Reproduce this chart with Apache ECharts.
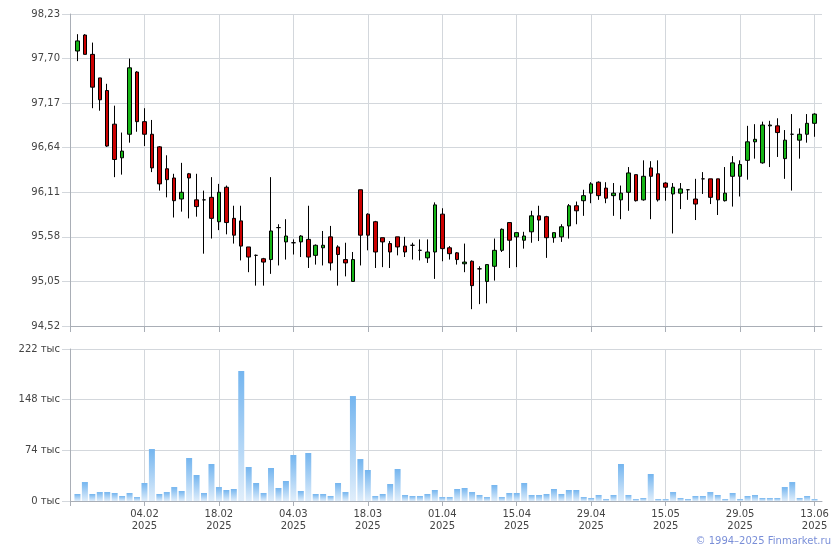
<!DOCTYPE html>
<html><head><meta charset="utf-8">
<script src="https://cdn.jsdelivr.net/npm/echarts@6/dist/echarts.min.js"></script>
<style>html,body{margin:0;padding:0;background:#fff}#c{width:840px;height:550px}</style>
</head><body><div id="c"></div>
<script>
const dates = [
'22.01.2025','23.01.2025','24.01.2025','27.01.2025','28.01.2025','29.01.2025','30.01.2025','31.01.2025','03.02.2025','04.02.2025',
'05.02.2025','06.02.2025','07.02.2025','10.02.2025','11.02.2025','12.02.2025','13.02.2025','14.02.2025','17.02.2025','18.02.2025',
'19.02.2025','20.02.2025','21.02.2025','24.02.2025','25.02.2025','26.02.2025','27.02.2025','28.02.2025','03.03.2025','04.03.2025',
'05.03.2025','06.03.2025','07.03.2025','10.03.2025','11.03.2025','12.03.2025','13.03.2025','14.03.2025','17.03.2025','18.03.2025',
'19.03.2025','20.03.2025','21.03.2025','24.03.2025','25.03.2025','26.03.2025','27.03.2025','28.03.2025','31.03.2025','01.04.2025',
'02.04.2025','03.04.2025','04.04.2025','07.04.2025','08.04.2025','09.04.2025','10.04.2025','11.04.2025','14.04.2025','15.04.2025',
'16.04.2025','17.04.2025','18.04.2025','21.04.2025','22.04.2025','23.04.2025','24.04.2025','25.04.2025','28.04.2025','29.04.2025',
'30.04.2025','02.05.2025','05.05.2025','06.05.2025','07.05.2025','08.05.2025','12.05.2025','13.05.2025','14.05.2025','15.05.2025',
'16.05.2025','19.05.2025','20.05.2025','21.05.2025','22.05.2025','23.05.2025','26.05.2025','27.05.2025','28.05.2025','29.05.2025',
'30.05.2025','02.06.2025','03.06.2025','04.06.2025','05.06.2025','06.06.2025','09.06.2025','10.06.2025','11.06.2025','13.06.2025'
];
const opens = [
97.79,97.98,97.75,97.47,97.32,96.92,96.52,96.80,97.54,96.95,
96.80,96.65,96.39,96.28,96.03,96.33,96.02,96.02,96.05,95.76,
96.17,95.80,95.77,95.46,95.36,95.32,95.31,95.69,95.52,95.51,
95.52,95.55,95.36,95.45,95.58,95.46,95.31,95.05,96.14,95.85,
95.76,95.57,95.50,95.58,95.47,95.48,95.42,95.33,95.40,95.85,
95.45,95.39,95.26,95.29,95.20,95.05,95.23,95.42,95.75,95.58,
95.54,95.64,95.83,95.82,95.57,95.58,95.71,95.95,96.01,96.10,
96.23,96.16,96.07,96.02,96.11,96.32,96.02,96.40,96.33,96.22,
96.09,96.10,96.14,96.03,96.27,96.27,96.27,96.01,96.30,96.30,
96.49,96.71,96.46,96.90,96.90,96.51,96.80,96.73,96.80,96.93
];
const closes = [
97.91,97.75,97.36,97.21,96.66,96.50,96.60,97.59,96.95,96.80,
96.40,96.21,96.26,96.01,96.11,96.28,95.94,96.02,95.80,96.11,
95.75,95.60,95.47,95.34,95.36,95.28,95.65,95.69,95.59,95.51,
95.59,95.34,95.48,95.48,95.27,95.37,95.27,95.31,95.60,95.60,
95.40,95.52,95.40,95.46,95.40,95.48,95.42,95.40,95.96,95.44,
95.38,95.31,95.28,95.00,95.20,95.25,95.42,95.67,95.54,95.63,
95.59,95.83,95.78,95.57,95.63,95.70,95.95,95.89,96.07,96.21,
96.07,96.04,96.10,96.10,96.34,96.01,96.30,96.30,96.02,96.17,
96.17,96.15,96.14,95.97,96.27,96.05,96.02,96.10,96.46,96.44,
96.71,96.74,96.91,96.91,96.82,96.73,96.80,96.80,96.93,97.04
];
const lows = [
97.67,97.75,97.11,97.08,96.65,96.29,96.32,96.70,96.83,96.66,
96.35,96.13,96.05,95.81,95.88,95.80,95.82,95.38,95.56,95.66,
95.61,95.50,95.30,95.16,95.00,95.00,95.14,95.24,95.31,95.37,
95.34,95.21,95.25,95.24,95.18,95.00,95.11,95.05,95.24,95.42,
95.21,95.22,95.21,95.36,95.34,95.31,95.30,95.27,95.08,95.29,
95.31,95.25,95.16,94.72,94.78,94.79,95.06,95.40,95.21,95.22,
95.44,95.51,95.53,95.33,95.51,95.52,95.56,95.73,95.83,95.98,
96.02,95.98,95.83,95.79,95.89,96.00,96.01,95.79,96.00,96.01,
95.62,95.91,96.02,95.78,96.09,95.97,95.84,96.00,95.94,96.06,
96.26,96.51,96.45,96.41,96.53,96.27,96.13,96.51,96.70,96.77
];
const highs = [
97.99,97.99,97.89,97.47,97.40,97.14,96.82,97.70,97.55,97.11,
96.97,96.66,96.55,96.33,96.46,96.34,96.33,96.13,96.29,96.21,
96.19,95.95,95.95,95.46,95.37,95.33,96.29,95.73,95.79,95.55,
95.60,95.95,95.49,95.65,95.71,95.48,95.51,95.40,96.14,95.86,
95.77,95.57,95.53,95.58,95.58,95.51,95.55,95.55,95.99,95.92,
95.47,95.40,95.50,95.30,95.23,95.25,95.56,95.68,95.75,95.63,
95.64,95.89,95.95,95.83,95.63,95.73,95.97,96.00,96.14,96.23,
96.24,96.23,96.22,96.19,96.41,96.32,96.49,96.48,96.49,96.23,
96.22,96.22,96.14,96.27,96.35,96.27,96.27,96.41,96.54,96.49,
96.90,96.92,96.95,96.96,96.99,96.85,97.04,96.87,97.04,97.05
];
// volume, thousands
const volumes = [
10.2,27.7,10.2,13.1,13.1,11.7,7.3,11.7,5.8,26.3,
75.9,10.2,13.1,20.4,14.6,62.8,38.0,11.7,54.0,20.4,
16.1,17.5,189.9,49.7,26.3,11.7,48.2,19.0,29.2,67.2,
14.6,70.1,10.2,10.2,7.3,26.3,13.1,153.3,61.3,45.3,
7.3,10.2,24.8,46.7,8.8,7.3,7.3,10.2,16.1,5.8,
5.8,17.5,19.0,13.1,8.8,5.8,23.4,5.8,11.7,11.7,
26.3,8.8,8.8,10.2,17.5,10.2,16.1,16.1,5.8,4.4,
8.8,2.9,8.8,54.0,8.8,2.9,4.4,39.4,2.9,2.9,
13.1,4.4,2.9,7.3,7.3,13.1,8.8,2.9,11.7,2.9,
7.3,8.8,4.4,4.4,4.4,20.4,27.7,4.4,7.3,2.9
];
const priceAxis = {min: 94.52, max: 98.23, step: 0.53};
const volumeAxis = {min: 0, max: 222, step: 74};
const volumeUnit = 'тыс';
const copyright = '© 1994–2025 Finmarket.ru';

const cats = [''].concat(dates, ['']);
const candleData = dates.map((d, i) => [d, opens[i], closes[i], lows[i], highs[i]]);
const volData = dates.map((d, i) => [d, volumes[i]]);

const FONT = 'DejaVu Sans';
const GRID = '#d3d7dc';
const AXIS = '#a9aeb6';
const TXT = '#444';
const every10 = (idx) => idx % 10 === 0 && idx <= dates.length;

const chart = echarts.init(document.getElementById('c'), null, {renderer: 'canvas'});
chart.setOption({
  animation: false,
  backgroundColor: '#fff',
  grid: [
    {left: 70, right: 18, top: 14, height: 312},
    {left: 70, right: 18, top: 349, height: 152}
  ],
  xAxis: [
    {type: 'category', gridIndex: 0, data: cats, boundaryGap: false,
     axisLine: {lineStyle: {color: AXIS}},
     axisTick: {show: true, length: 6, interval: every10, lineStyle: {color: AXIS}},
     axisLabel: {show: false},
     splitLine: {show: true, interval: every10, lineStyle: {color: GRID}}},
    {type: 'category', gridIndex: 1, data: cats, boundaryGap: false,
     axisLine: {lineStyle: {color: AXIS}},
     axisTick: {show: true, length: 5, interval: every10, lineStyle: {color: AXIS}},
     axisLabel: {interval: every10, color: TXT, fontSize: 10, fontFamily: FONT, margin: 7, lineHeight: 12,
       formatter: (s) => s ? s.slice(0, 5) + '\n' + s.slice(6) : ''},
     splitLine: {show: true, interval: every10, lineStyle: {color: GRID}}}
  ],
  yAxis: [
    {type: 'value', gridIndex: 0, min: priceAxis.min, max: priceAxis.max, interval: priceAxis.step,
     axisLine: {show: true, lineStyle: {color: AXIS}},
     axisTick: {show: true, length: 8, lineStyle: {color: GRID}},
     axisLabel: {color: TXT, fontSize: 10, fontFamily: FONT, margin: 10,
       formatter: (v) => v.toFixed(2).replace('.', ',')},
     splitLine: {lineStyle: {color: GRID}}},
    {type: 'value', gridIndex: 1, min: volumeAxis.min, max: volumeAxis.max, interval: volumeAxis.step,
     axisLine: {show: true, lineStyle: {color: AXIS}},
     axisTick: {show: true, length: 8, lineStyle: {color: GRID}},
     axisLabel: {color: TXT, fontSize: 10, fontFamily: FONT, margin: 10,
       formatter: (v) => Math.round(v) + ' ' + volumeUnit},
     splitLine: {lineStyle: {color: GRID}}}
  ],
  series: [
    {type: 'candlestick', xAxisIndex: 0, yAxisIndex: 0, data: candleData,
     encode: {x: 0, y: [1, 2, 3, 4]},
     barWidth: 4,
     itemStyle: {color: '#16b516', color0: '#cc0000', borderColor: '#000', borderColor0: '#000', borderWidth: 1}},
    {type: 'bar', xAxisIndex: 1, yAxisIndex: 1, data: volData, encode: {x: 0, y: 1}, barWidth: 6,
     itemStyle: {color: new echarts.graphic.LinearGradient(0, 0, 0, 1, [
       {offset: 0, color: '#74b5ef'}, {offset: 1, color: '#e0eefb'}])}}
  ],
  graphic: [
    {type: 'text', right: 9, top: 536,
     style: {text: copyright, fill: '#7a8fd8', font: '10px "DejaVu Sans"'}}
  ]
});
</script>
</body></html>
